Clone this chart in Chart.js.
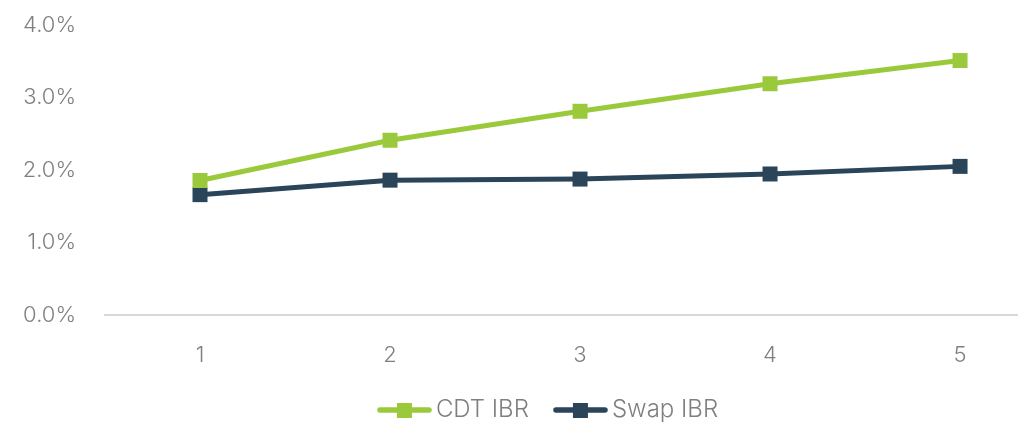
<!DOCTYPE html>
<html>
<head>
<meta charset="utf-8">
<script src="https://cdn.jsdelivr.net/npm/chart.js@4/dist/chart.umd.min.js"></script>
<style>
  html, body { margin: 0; padding: 0; background: #ffffff; }
  #wrap { width: 1018px; height: 422px; }
</style>
</head>
<body>
<div id="wrap"><canvas id="c" width="1018" height="422"></canvas></div>
<script>
// Tenor in years and the two rate curves (percent)
const tenors = [1, 2, 3, 4, 5];
const cdtIbr = [1.855, 2.41, 2.81, 3.19, 3.51];
const swapIbr = [1.66, 1.86, 1.875, 1.945, 2.05];
const yTicks = [0, 1, 2, 3, 4];

const GREEN = '#9aca3c';
const NAVY = '#2a4459';
const TEXT = '#7f7f7f';
const FONT = 'Inter, "Noto Sans", sans-serif';
const TICK_FONT = { family: FONT, size: 22, weight: 300 };
const LEGEND_FONT = { family: FONT, size: 24, weight: 300 };
const LEGEND_SHIFT = -10;

// Legend swatch: short line with a square marker in the middle
function swatch(color) {
  const cv = document.createElement('canvas');
  cv.width = 55; cv.height = 16;
  const g = cv.getContext('2d');
  g.strokeStyle = color; g.lineWidth = 5.5; g.lineCap = 'round';
  g.beginPath(); g.moveTo(3, 8); g.lineTo(52, 8); g.stroke();
  g.fillStyle = color;
  g.fillRect(20, 1, 15, 15);
  return cv;
}
const swatches = [swatch(GREEN), swatch(NAVY)];

const toPoints = vals => tenors.map((t, i) => ({ x: t, y: vals[i] }));

// Nudge the legend row horizontally after layout
const legendOffset = {
  id: 'legendOffset',
  afterLayout(chart) {
    if (chart.legend) {
      chart.legend.left += LEGEND_SHIFT;
      chart.legend.right += LEGEND_SHIFT;
    }
  }
};

new Chart(document.getElementById('c'), {
  type: 'line',
  data: {
    datasets: [
      { label: 'CDT IBR', data: toPoints(cdtIbr), borderColor: GREEN, backgroundColor: GREEN,
        borderWidth: 5, pointStyle: 'rect', pointRadius: 10.6, pointBorderWidth: 0, pointHoverRadius: 10.6 },
      { label: 'Swap IBR', data: toPoints(swapIbr), borderColor: NAVY, backgroundColor: NAVY,
        borderWidth: 5, pointStyle: 'rect', pointRadius: 10.6, pointBorderWidth: 0, pointHoverRadius: 10.6 }
    ]
  },
  plugins: [legendOffset],
  options: {
    responsive: false,
    animation: false,
    layout: { autoPadding: false, padding: { top: 25, right: 0, left: 0, bottom: -10 } },
    scales: {
      x: {
        type: 'linear', min: 0.5, max: 5.305,
        afterBuildTicks: s => { s.ticks = tenors.map(v => ({ value: v })); },
        grid: { display: false, drawTicks: false },
        border: { display: true, color: '#d9d9d9', width: 2 },
        ticks: { color: TEXT, font: TICK_FONT, padding: 27, callback: v => String(v) },
        afterFit: s => { s.height = 51; s.paddingLeft = 0; s.paddingRight = 0; }
      },
      y: {
        min: 0, max: 4,
        afterBuildTicks: s => { s.ticks = yTicks.map(v => ({ value: v })); },
        grid: { display: false, drawTicks: false },
        border: { display: false },
        ticks: { color: TEXT, font: TICK_FONT, padding: 29, callback: v => v.toFixed(1) + '%' },
        afterFit: s => { s.width = 105; s.paddingTop = 0; s.paddingBottom = 0; }
      }
    },
    plugins: {
      tooltip: { enabled: false },
      legend: {
        position: 'bottom',
        fullSize: false,
        labels: {
          usePointStyle: true,
          pointStyleWidth: 39,
          color: TEXT,
          font: LEGEND_FONT,
          padding: 32,
          generateLabels: chart => chart.data.datasets.map((ds, i) => ({
            text: ds.label, datasetIndex: i, pointStyle: swatches[i],
            fillStyle: ds.borderColor, strokeStyle: ds.borderColor, lineWidth: 0,
            fontColor: TEXT, hidden: false
          }))
        }
      }
    }
  }
});
</script>
</body>
</html>
